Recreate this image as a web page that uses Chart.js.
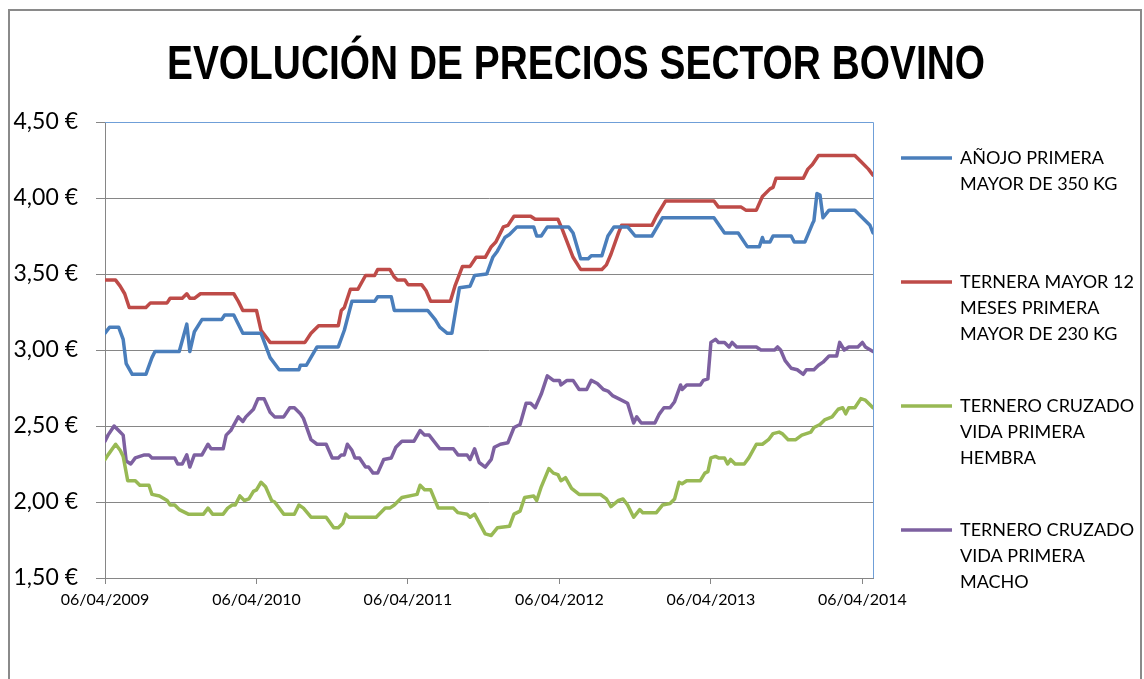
<!DOCTYPE html>
<html>
<head>
    <script src="https://cdn.jsdelivr.net/npm/chart.js@4.4.1/dist/chart.umd.min.js"></script>
    <title>Evolución de precios sector bovino</title>
    <style>
        body { margin: 0; background: #fff; }
        #wrap { width: 1144px; height: 679px; }
    </style>
</head>
<body>
    <div id="wrap"><canvas id="bovino"></canvas></div>

    <script>
    // x values are years counted from 06/04/2009
    const xLabels = ['06/04/2009', '06/04/2010', '06/04/2011', '06/04/2012', '06/04/2013', '06/04/2014'];
    const yearTicks = [0, 1, 2, 3, 4, 5];

    const anojoT = [0.00, 0.03, 0.09, 0.12, 0.14, 0.18, 0.27, 0.31, 0.33, 0.49, 0.54, 0.56, 0.59, 0.64, 0.77, 0.79, 0.85, 0.91, 1.03, 1.09, 1.15, 1.28, 1.29, 1.33, 1.40, 1.54, 1.58, 1.63, 1.78, 1.80, 1.89, 1.91, 2.13, 2.18, 2.21, 2.26, 2.29, 2.34, 2.41, 2.44, 2.52, 2.56, 2.59, 2.64, 2.67, 2.72, 2.83, 2.85, 2.88, 2.92, 3.06, 3.09, 3.14, 3.19, 3.21, 3.28, 3.32, 3.36, 3.45, 3.50, 3.61, 3.68, 4.02, 4.09, 4.18, 4.24, 4.32, 4.34, 4.35, 4.39, 4.41, 4.53, 4.55, 4.62, 4.67, 4.68, 4.70, 4.72, 4.74, 4.78, 4.95, 4.98, 5.00, 5.05, 5.07];
    const anojoP = [3.11, 3.15, 3.15, 3.07, 2.91, 2.84, 2.84, 2.95, 2.99, 2.99, 3.17, 2.99, 3.12, 3.20, 3.20, 3.23, 3.23, 3.11, 3.11, 2.95, 2.87, 2.87, 2.90, 2.90, 3.02, 3.02, 3.13, 3.32, 3.32, 3.35, 3.35, 3.26, 3.26, 3.20, 3.15, 3.11, 3.11, 3.41, 3.42, 3.49, 3.50, 3.61, 3.65, 3.74, 3.76, 3.81, 3.81, 3.75, 3.75, 3.81, 3.81, 3.77, 3.60, 3.60, 3.62, 3.62, 3.75, 3.81, 3.81, 3.75, 3.75, 3.87, 3.87, 3.77, 3.77, 3.68, 3.68, 3.74, 3.71, 3.71, 3.75, 3.75, 3.71, 3.71, 3.83, 3.85, 4.03, 4.02, 3.87, 3.92, 3.92, 3.89, 3.87, 3.82, 3.77];

    const terneraT = [0.00, 0.07, 0.10, 0.13, 0.16, 0.27, 0.30, 0.41, 0.43, 0.51, 0.54, 0.56, 0.59, 0.63, 0.85, 0.88, 0.91, 1.00, 1.03, 1.09, 1.32, 1.36, 1.41, 1.54, 1.56, 1.58, 1.62, 1.67, 1.72, 1.78, 1.80, 1.88, 1.91, 1.93, 1.98, 2.00, 2.09, 2.12, 2.15, 2.28, 2.31, 2.36, 2.41, 2.45, 2.51, 2.55, 2.58, 2.63, 2.66, 2.70, 2.81, 2.84, 2.99, 3.02, 3.09, 3.14, 3.28, 3.31, 3.34, 3.39, 3.41, 3.61, 3.64, 3.70, 4.02, 4.05, 4.20, 4.23, 4.30, 4.34, 4.39, 4.41, 4.43, 4.61, 4.64, 4.67, 4.71, 4.95, 4.99, 5.04, 5.07];
    const terneraP = [3.46, 3.46, 3.42, 3.37, 3.28, 3.28, 3.31, 3.31, 3.34, 3.34, 3.37, 3.34, 3.34, 3.37, 3.37, 3.32, 3.26, 3.26, 3.13, 3.05, 3.05, 3.11, 3.16, 3.16, 3.26, 3.28, 3.40, 3.40, 3.49, 3.49, 3.53, 3.53, 3.48, 3.46, 3.46, 3.43, 3.43, 3.39, 3.32, 3.32, 3.42, 3.55, 3.55, 3.61, 3.61, 3.68, 3.71, 3.81, 3.82, 3.88, 3.88, 3.86, 3.86, 3.79, 3.61, 3.53, 3.53, 3.56, 3.63, 3.77, 3.82, 3.82, 3.88, 3.98, 3.98, 3.94, 3.94, 3.92, 3.92, 4.01, 4.06, 4.07, 4.13, 4.13, 4.19, 4.22, 4.28, 4.28, 4.24, 4.19, 4.15];

    const hembraT = [0.00, 0.02, 0.07, 0.10, 0.12, 0.15, 0.20, 0.23, 0.29, 0.31, 0.36, 0.41, 0.43, 0.46, 0.49, 0.55, 0.65, 0.68, 0.71, 0.78, 0.81, 0.84, 0.86, 0.89, 0.92, 0.95, 0.98, 1.00, 1.03, 1.06, 1.10, 1.12, 1.18, 1.25, 1.28, 1.31, 1.36, 1.46, 1.51, 1.54, 1.57, 1.59, 1.61, 1.79, 1.85, 1.88, 1.91, 1.96, 2.06, 2.08, 2.11, 2.15, 2.20, 2.30, 2.33, 2.39, 2.41, 2.44, 2.51, 2.55, 2.59, 2.67, 2.70, 2.74, 2.77, 2.83, 2.85, 2.88, 2.93, 2.96, 2.99, 3.01, 3.04, 3.08, 3.13, 3.27, 3.31, 3.34, 3.39, 3.42, 3.45, 3.49, 3.53, 3.55, 3.64, 3.68, 3.73, 3.76, 3.79, 3.81, 3.84, 3.93, 3.96, 3.98, 4.00, 4.03, 4.05, 4.09, 4.11, 4.13, 4.16, 4.22, 4.25, 4.30, 4.34, 4.38, 4.41, 4.45, 4.47, 4.51, 4.56, 4.60, 4.63, 4.66, 4.68, 4.72, 4.75, 4.80, 4.84, 4.87, 4.89, 4.91, 4.95, 4.99, 5.02, 5.07];
    const hembraP = [2.28, 2.31, 2.38, 2.34, 2.30, 2.14, 2.14, 2.11, 2.11, 2.05, 2.04, 2.01, 1.98, 1.98, 1.95, 1.92, 1.92, 1.96, 1.92, 1.92, 1.96, 1.98, 1.98, 2.04, 2.01, 2.02, 2.07, 2.08, 2.13, 2.10, 2.01, 2.00, 1.92, 1.92, 1.98, 1.96, 1.90, 1.90, 1.83, 1.83, 1.86, 1.92, 1.90, 1.90, 1.96, 1.96, 1.98, 2.03, 2.05, 2.11, 2.08, 2.08, 1.96, 1.96, 1.93, 1.92, 1.90, 1.92, 1.79, 1.78, 1.83, 1.84, 1.92, 1.94, 2.03, 2.04, 2.01, 2.10, 2.22, 2.19, 2.18, 2.14, 2.16, 2.09, 2.05, 2.05, 2.02, 1.97, 2.01, 2.02, 1.98, 1.90, 1.95, 1.93, 1.93, 1.98, 1.99, 2.02, 2.13, 2.12, 2.14, 2.14, 2.19, 2.20, 2.29, 2.30, 2.29, 2.29, 2.25, 2.28, 2.25, 2.25, 2.29, 2.38, 2.38, 2.41, 2.45, 2.46, 2.45, 2.41, 2.41, 2.44, 2.45, 2.46, 2.49, 2.51, 2.54, 2.56, 2.61, 2.62, 2.58, 2.62, 2.62, 2.68, 2.67, 2.62];

    const machoT = [0.00, 0.02, 0.06, 0.09, 0.12, 0.14, 0.17, 0.20, 0.26, 0.29, 0.31, 0.46, 0.48, 0.51, 0.54, 0.56, 0.59, 0.64, 0.68, 0.70, 0.78, 0.80, 0.83, 0.88, 0.91, 0.93, 0.98, 1.01, 1.05, 1.09, 1.12, 1.18, 1.22, 1.25, 1.29, 1.31, 1.36, 1.40, 1.46, 1.50, 1.54, 1.56, 1.58, 1.60, 1.63, 1.65, 1.68, 1.72, 1.74, 1.77, 1.80, 1.84, 1.89, 1.92, 1.96, 2.04, 2.08, 2.11, 2.14, 2.21, 2.30, 2.33, 2.39, 2.41, 2.44, 2.47, 2.51, 2.55, 2.57, 2.61, 2.66, 2.70, 2.74, 2.78, 2.81, 2.84, 2.88, 2.92, 2.96, 3.00, 3.01, 3.05, 3.09, 3.13, 3.18, 3.21, 3.25, 3.29, 3.32, 3.35, 3.39, 3.45, 3.49, 3.51, 3.54, 3.63, 3.66, 3.69, 3.73, 3.76, 3.80, 3.81, 3.84, 3.93, 3.95, 3.98, 4.00, 4.03, 4.05, 4.09, 4.12, 4.14, 4.17, 4.30, 4.33, 4.42, 4.44, 4.46, 4.49, 4.53, 4.57, 4.61, 4.63, 4.68, 4.71, 4.74, 4.78, 4.83, 4.85, 4.88, 4.91, 4.97, 5.00, 5.02, 5.07];
    const machoP = [2.40, 2.44, 2.50, 2.47, 2.44, 2.27, 2.25, 2.29, 2.31, 2.31, 2.29, 2.29, 2.25, 2.25, 2.31, 2.23, 2.31, 2.31, 2.38, 2.35, 2.35, 2.44, 2.47, 2.56, 2.53, 2.56, 2.61, 2.68, 2.68, 2.59, 2.56, 2.56, 2.62, 2.62, 2.58, 2.55, 2.41, 2.38, 2.38, 2.29, 2.29, 2.31, 2.31, 2.38, 2.34, 2.29, 2.29, 2.23, 2.23, 2.19, 2.19, 2.28, 2.29, 2.36, 2.40, 2.40, 2.47, 2.44, 2.44, 2.35, 2.35, 2.31, 2.31, 2.28, 2.35, 2.26, 2.23, 2.28, 2.36, 2.38, 2.39, 2.49, 2.51, 2.65, 2.65, 2.62, 2.71, 2.83, 2.80, 2.80, 2.77, 2.80, 2.80, 2.74, 2.74, 2.80, 2.78, 2.74, 2.73, 2.70, 2.68, 2.65, 2.52, 2.56, 2.52, 2.52, 2.58, 2.62, 2.62, 2.66, 2.77, 2.74, 2.77, 2.77, 2.80, 2.81, 3.05, 3.07, 3.05, 3.05, 3.02, 3.05, 3.02, 3.02, 3.00, 3.00, 3.02, 3.00, 2.93, 2.88, 2.87, 2.84, 2.87, 2.87, 2.90, 2.92, 2.96, 2.96, 3.05, 3.00, 3.02, 3.02, 3.05, 3.02, 2.99];

    const legendLabels = [
        ['AÑOJO PRIMERA', 'MAYOR DE 350 KG'],
        ['TERNERA MAYOR 12', 'MESES PRIMERA', 'MAYOR DE 230 KG'],
        ['TERNERO CRUZADO', 'VIDA PRIMERA', 'HEMBRA'],
        ['TERNERO CRUZADO', 'VIDA PRIMERA', 'MACHO']
    ];
    const seriesColors = ['#4A7EBB', '#BE4B48', '#98B954', '#7D60A0'];

    function points(ts, ps) {
        return ts.map((t, i) => ({ x: t, y: ps[i] }));
    }

    const series = [points(anojoT, anojoP), points(terneraT, terneraP), points(hembraT, hembraP), points(machoT, machoP)];

    const datasets = series.map((d, i) => ({
        label: legendLabels[i].join(' '),
        data: d,
        borderColor: seriesColors[i],
        backgroundColor: seriesColors[i],
        borderWidth: 3.5,
        pointRadius: 0,
        tension: 0,
        borderJoinStyle: 'round',
        borderCapStyle: 'round'
    }));

    // white page and grey outer frame
    const framePlugin = {
        id: 'frame',
        beforeDraw(chart) {
            const c = chart.ctx;
            c.save();
            c.fillStyle = '#fff';
            c.fillRect(0, 0, chart.width, chart.height);
            c.strokeStyle = '#8a8a8a';
            c.lineWidth = 2;
            c.strokeRect(9, 10, 1132, 700);
            c.restore();
        }
    };

    // light blue border on top and right of the plot area
    const plotBorder = {
        id: 'plotBorder',
        beforeDatasetsDraw(chart) {
            const a = chart.chartArea;
            const c = chart.ctx;
            c.save();
            c.strokeStyle = '#6F9FD8';
            c.lineWidth = 1;
            c.beginPath();
            c.moveTo(a.left, a.top + 0.5);
            c.lineTo(a.right + 0.5, a.top + 0.5);
            c.lineTo(a.right + 0.5, a.bottom);
            c.stroke();
            c.restore();
        }
    };

    const titlePlugin = {
        id: 'bigTitle',
        afterDraw(chart) {
            const c = chart.ctx;
            c.save();
            c.fillStyle = '#000';
            c.font = 'bold 49px "Liberation Sans Narrow", "Liberation Sans", sans-serif';
            c.textAlign = 'center';
            c.textBaseline = 'middle';
            // squeezed to the narrow width of the original title
            c.fillText('EVOLUCIÓN DE PRECIOS SECTOR BOVINO', 576, 65, 818);
            c.restore();
        }
    };

    const sideLegend = {
        id: 'sideLegend',
        afterDraw(chart) {
            const c = chart.ctx;
            c.save();
            c.font = '18px Lato, sans-serif';
            c.textBaseline = 'middle';
            c.textAlign = 'left';
            chart.data.datasets.forEach((ds, i) => {
                const y0 = 158 + i * 124;
                c.strokeStyle = ds.borderColor;
                c.lineWidth = 3.5;
                c.beginPath();
                c.moveTo(901, y0);
                c.lineTo(952, y0);
                c.stroke();
                c.fillStyle = '#000';
                legendLabels[i].forEach((line, j) => {
                    c.fillText(line, 960, y0 + j * 26);
                });
            });
            c.restore();
        }
    };

    new Chart(document.getElementById('bovino'), {
        type: 'line',
        data: { datasets: datasets },
        options: {
            responsive: true,
            maintainAspectRatio: false,
            animation: false,
            layout: { padding: { left: 0, right: 271, top: 122, bottom: 61 } },
            plugins: {
                legend: { display: false },
                title: { display: false },
                tooltip: { enabled: false }
            },
            scales: {
                x: {
                    type: 'linear',
                    min: 0,
                    max: 5.07,
                    afterBuildTicks: axis => { axis.ticks = yearTicks.map(v => ({ value: v })); },
                    afterFit: s => { s.height = 40; },
                    ticks: {
                        autoSkip: false,
                        maxRotation: 0,
                        padding: 6,
                        color: '#000',
                        font: { family: 'Lato', size: 16 },
                        callback: (v, i) => xLabels[i]
                    },
                    grid: { drawOnChartArea: false, drawTicks: true, tickLength: 6, color: '#868686' },
                    border: { display: true, color: '#868686' }
                },
                y: {
                    min: 1.5,
                    max: 4.5,
                    afterFit: s => { s.width = 105; },
                    ticks: {
                        stepSize: 0.5,
                        padding: 18,
                        color: '#000',
                        font: { family: 'Lato', size: 23 },
                        callback: v => v.toFixed(2).replace('.', ',') + ' €'
                    },
                    grid: { color: '#868686', lineWidth: 1, tickLength: 9 },
                    border: { display: true, color: '#868686' }
                }
            }
        },
        plugins: [framePlugin, plotBorder, titlePlugin, sideLegend]
    });
    </script>
</body>
</html>
